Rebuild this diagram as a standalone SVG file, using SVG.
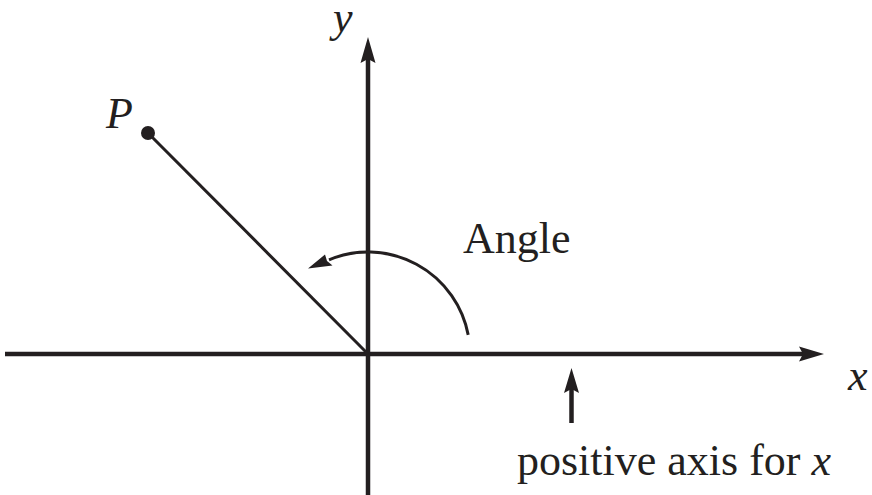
<svg xmlns="http://www.w3.org/2000/svg" width="872" height="495" viewBox="0 0 872 495">
<style>
.ax{stroke:#231f20;stroke-width:4.5;fill:none}
.ln{stroke:#231f20;stroke-width:3;fill:none}
.hd{fill:#231f20;stroke:none}
.t{font-family:"Liberation Serif","Times New Roman",serif;font-size:44px;fill:#231f20}
.i{font-style:italic}
</style>
<rect width="872" height="495" fill="#fff"/>
<g id="connectors">
<line class="ax" x1="5" y1="354" x2="805" y2="354"/>
<polygon class="hd" points="824,354 799,346.5 803,354 799,361.5"/>
<line class="ax" x1="368" y1="495" x2="368" y2="58"/>
<polygon class="hd" points="368,37 360.5,63 368,59 375.5,63"/>
<line class="ln" x1="148" y1="133" x2="368" y2="354"/>
<path class="ln" d="M468.2,334.9 A102,102 0 0 0 329,259.8"/>
<polygon class="hd" points="308,268.5 325,254.5 327,261 332.5,265.5"/>
<line class="ax" x1="571.5" y1="423" x2="571.5" y2="388"/>
<polygon class="hd" points="571.5,368 564,393 571.5,389 579,393"/>
</g>
<g id="P">
<circle cx="148" cy="133" r="7" fill="#231f20"/>
<text class="t i" x="106" y="128">P</text>
</g>
<g id="ylabel"><text class="t i" x="333" y="32">y</text></g>
<g id="xlabel"><text class="t i" x="848" y="390">x</text></g>
<g id="angle"><text class="t" x="463" y="253">Angle</text></g>
<g id="poslabel"><text class="t" x="517" y="475">positive axis for <tspan class="i">x</tspan></text></g>
</svg>
